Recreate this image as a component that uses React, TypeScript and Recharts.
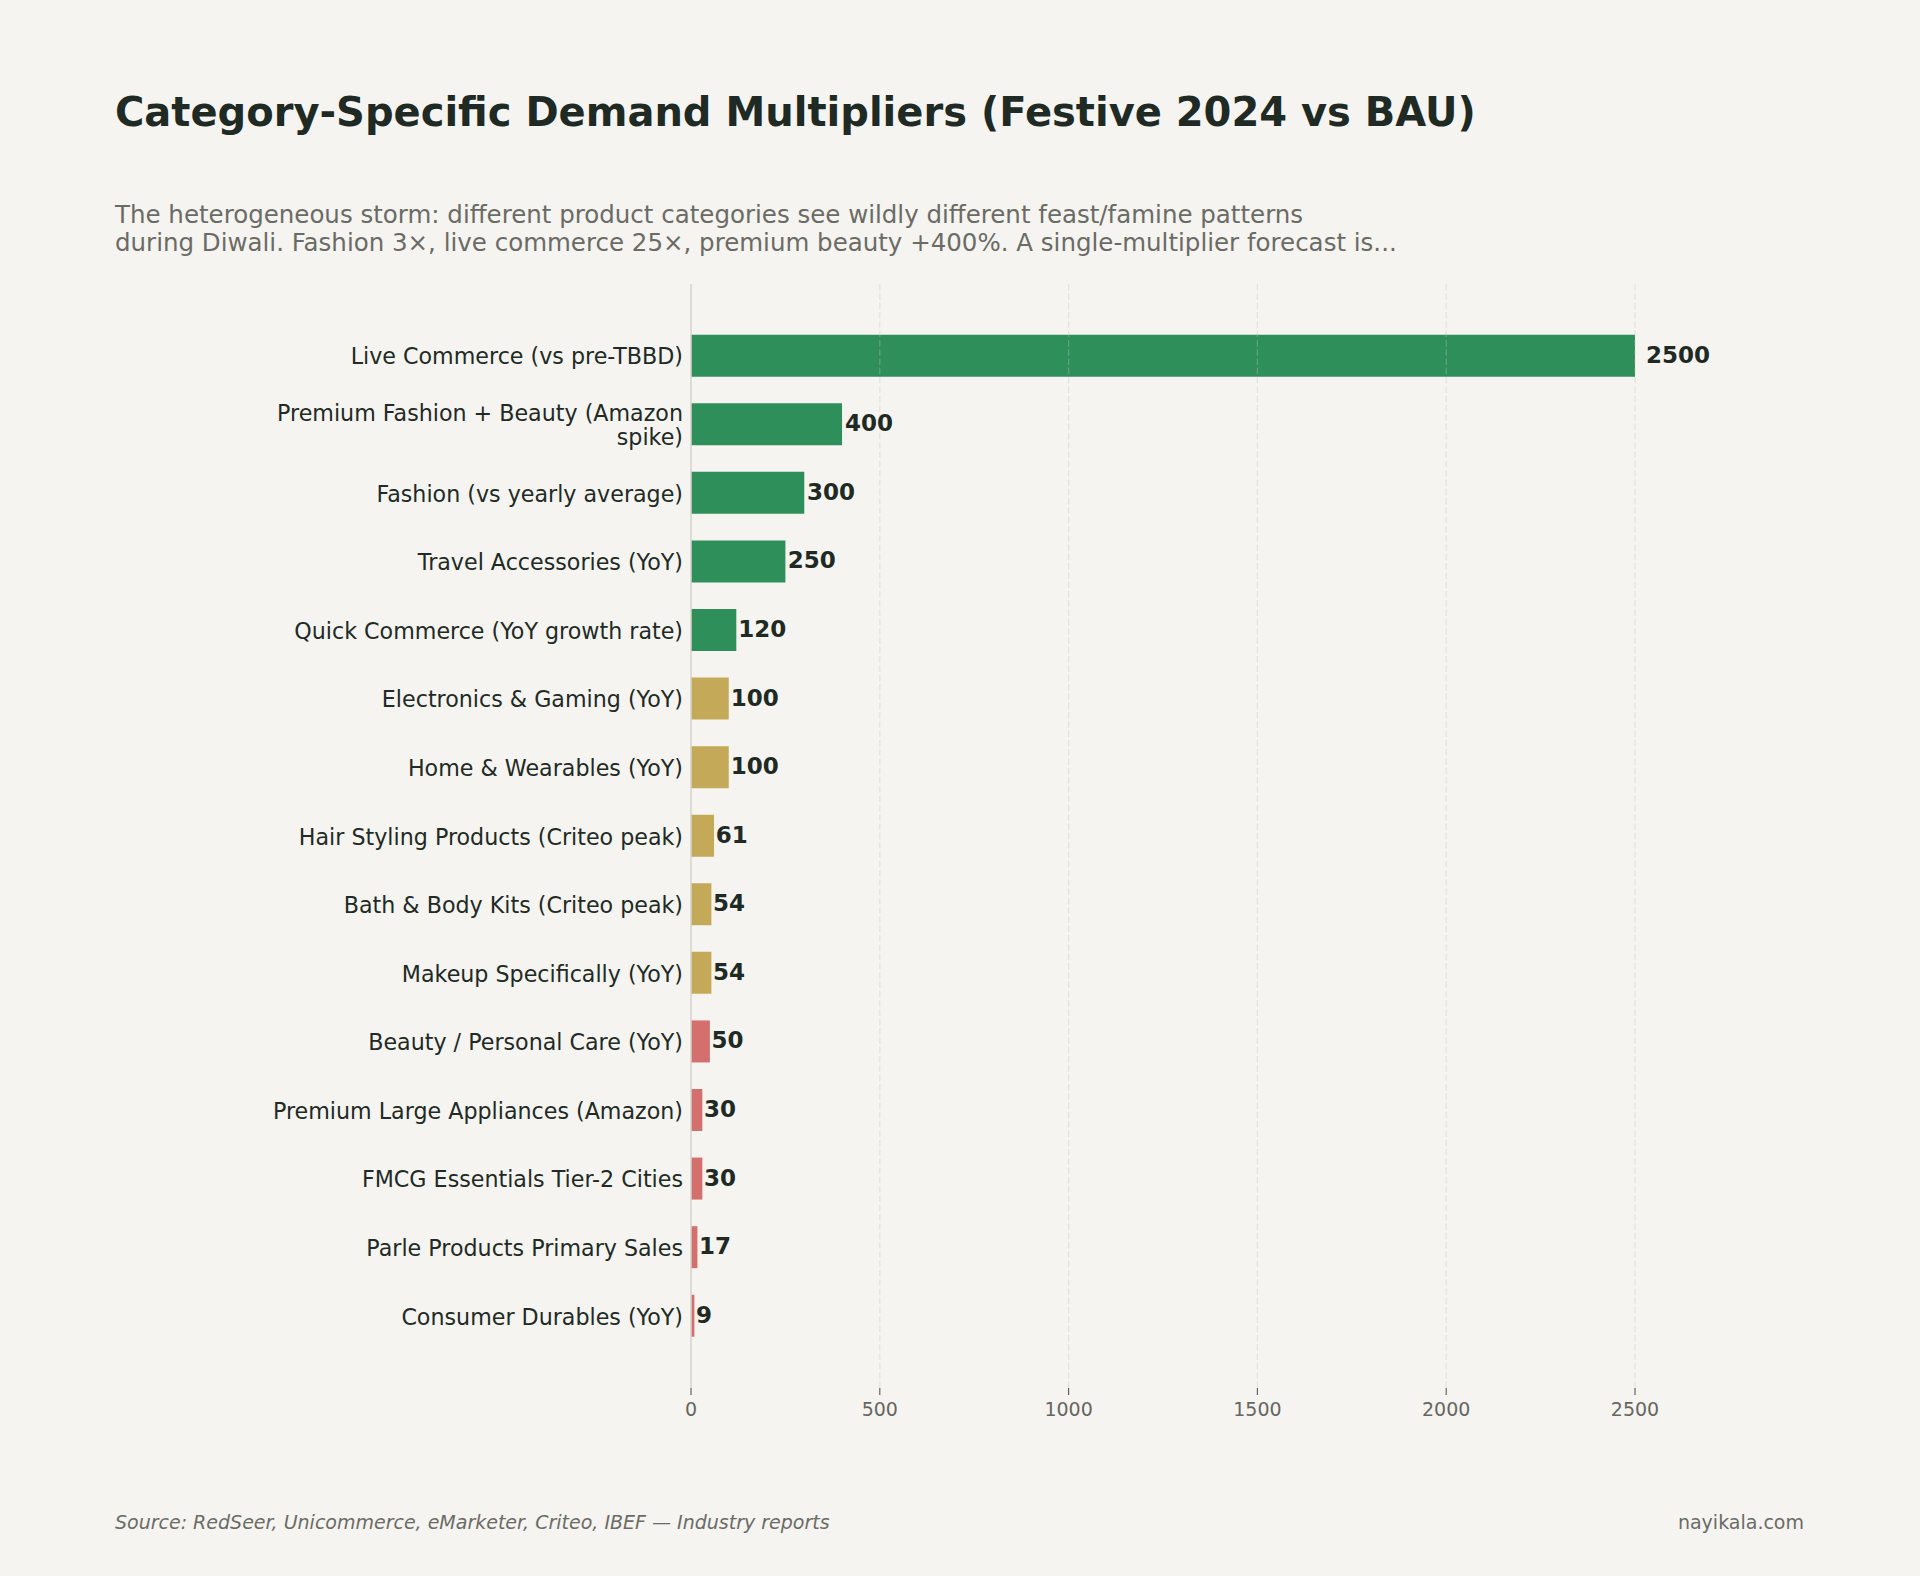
import React from 'react';
import { BarChart, Bar, XAxis, YAxis, ReferenceLine, Cell, LabelList } from 'recharts';

const categories = [
    'Live Commerce (vs pre-TBBD)',
    'Premium Fashion + Beauty (Amazon spike)',
    'Fashion (vs yearly average)',
    'Travel Accessories (YoY)',
    'Quick Commerce (YoY growth rate)',
    'Electronics & Gaming (YoY)',
    'Home & Wearables (YoY)',
    'Hair Styling Products (Criteo peak)',
    'Bath & Body Kits (Criteo peak)',
    'Makeup Specifically (YoY)',
    'Beauty / Personal Care (YoY)',
    'Premium Large Appliances (Amazon)',
    'FMCG Essentials Tier-2 Cities',
    'Parle Products Primary Sales',
    'Consumer Durables (YoY)',
];
const multipliers = [2500, 400, 300, 250, 120, 100, 100, 61, 54, 54, 50, 30, 30, 17, 9];
const xTicks = [0, 500, 1000, 1500, 2000, 2500];

const title = 'Category-Specific Demand Multipliers (Festive 2024 vs BAU)';
const subtitleLines = [
    'The heterogeneous storm: different product categories see wildly different feast/famine patterns',
    'during Diwali. Fashion 3×, live commerce 25×, premium beauty +400%. A single-multiplier forecast is...',
];
const sourceNote = 'Source: RedSeer, Unicommerce, eMarketer, Criteo, IBEF — Industry reports';
const siteNote = 'nayikala.com';

const data = categories.map((name, i) => ({ name, value: multipliers[i] }));

const FONT = '"DejaVu Sans", sans-serif';
const BG = '#f5f4f0';
const DARK = '#1f2a24';
const GREY = '#6b6b66';

function barColor(v: number) {
    if (v > 100) return '#2e8f5b';
    if (v > 50) return '#c4aa58';
    return '#d36f6c';
}

// simple textwrap, like python's textwrap.fill(width=35)
function wrap(text: string, width = 35) {
    const words = text.split(' ');
    const lines: string[] = [];
    let cur = '';
    for (const w of words) {
        if (!cur) cur = w;
        else if ((cur + ' ' + w).length <= width) cur += ' ' + w;
        else {
            lines.push(cur);
            cur = w;
        }
    }
    if (cur) lines.push(cur);
    return lines;
}

function CategoryTick(props: any) {
    const { x, y, payload } = props;
    const lines = wrap(String(payload.value));
    const n = lines.length;
    return (
        <text x={x} y={y} textAnchor="end" fontFamily={FONT} fontSize={22.2} fill="#222a25">
            {lines.map((l, i) => (
                <tspan key={i} x={x} y={y + 8.5 + (i - (n - 1) / 2) * 23.3}>
                    {l}
                </tspan>
            ))}
        </text>
    );
}

function ValueLabel(props: any) {
    const { x, y, width, height, value } = props;
    return (
        <text
            x={x + width + width * 0.01 + 1.5}
            y={y + height / 2 + 7}
            fontFamily={FONT}
            fontSize={23}
            fontWeight="bold"
            fill={DARK}
        >
            {value}
        </text>
    );
}

export default function App() {
    return (
        <div style={{ position: 'relative', width: 1920, height: 1576, background: BG, fontFamily: FONT }}>
            <style>{`body{margin:0;}`}</style>
            <BarChart
                width={1920}
                height={1576}
                data={data}
                layout="vertical"
                margin={{ top: 284, right: 190.6, bottom: 148, left: 0 }}
            >
                <XAxis
                    type="number"
                    domain={[0, 2750]}
                    ticks={xTicks}
                    allowDataOverflow
                    height={40}
                    axisLine={false}
                    tickSize={7}
                    tickMargin={8}
                    tickLine={{ stroke: '#666660', strokeWidth: 1.2 }}
                    tick={{ fontFamily: FONT, fontSize: 19, fill: '#666660' }}
                />
                <YAxis
                    type="category"
                    dataKey="name"
                    width={691}
                    tickSize={0}
                    tickMargin={8}
                    tickLine={false}
                    axisLine={{ stroke: '#d5d3cb', strokeWidth: 1.5 }}
                    padding={{ top: 37.7, bottom: 37.7 }}
                    interval={0}
                    tick={<CategoryTick />}
                />
                <Bar dataKey="value" barSize={42} isAnimationActive={false}>
                    {data.map((d, i) => (
                        <Cell key={i} fill={barColor(d.value)} />
                    ))}
                    <LabelList dataKey="value" content={<ValueLabel />} />
                </Bar>
                {xTicks.filter((t) => t > 0).map((t) => (
                    <ReferenceLine
                        key={t}
                        x={t}
                        stroke="#c4c4c0"
                        strokeOpacity={0.35}
                        strokeDasharray="6.5 2.8"
                        strokeWidth={1.2}
                    />
                ))}
            </BarChart>
            <svg
                width={1920}
                height={1576}
                style={{ position: 'absolute', left: 0, top: 0, pointerEvents: 'none' }}
            >
                <text x={115} y={126} fontFamily={FONT} fontSize={40} fontWeight="bold" fill={DARK}>
                    {title}
                </text>
                {subtitleLines.map((l, i) => (
                    <text key={i} x={115} y={223.3 + i * 27.8} fontFamily={FONT} fontSize={24.5} fill={GREY}>
                        {l}
                    </text>
                ))}
                <text x={115} y={1529} fontFamily={FONT} fontSize={19} fontStyle="italic" fill={GREY}>
                    {sourceNote}
                </text>
                <text x={1804} y={1529} fontFamily={FONT} fontSize={19} textAnchor="end" fill={GREY}>
                    {siteNote}
                </text>
            </svg>
        </div>
    );
}
